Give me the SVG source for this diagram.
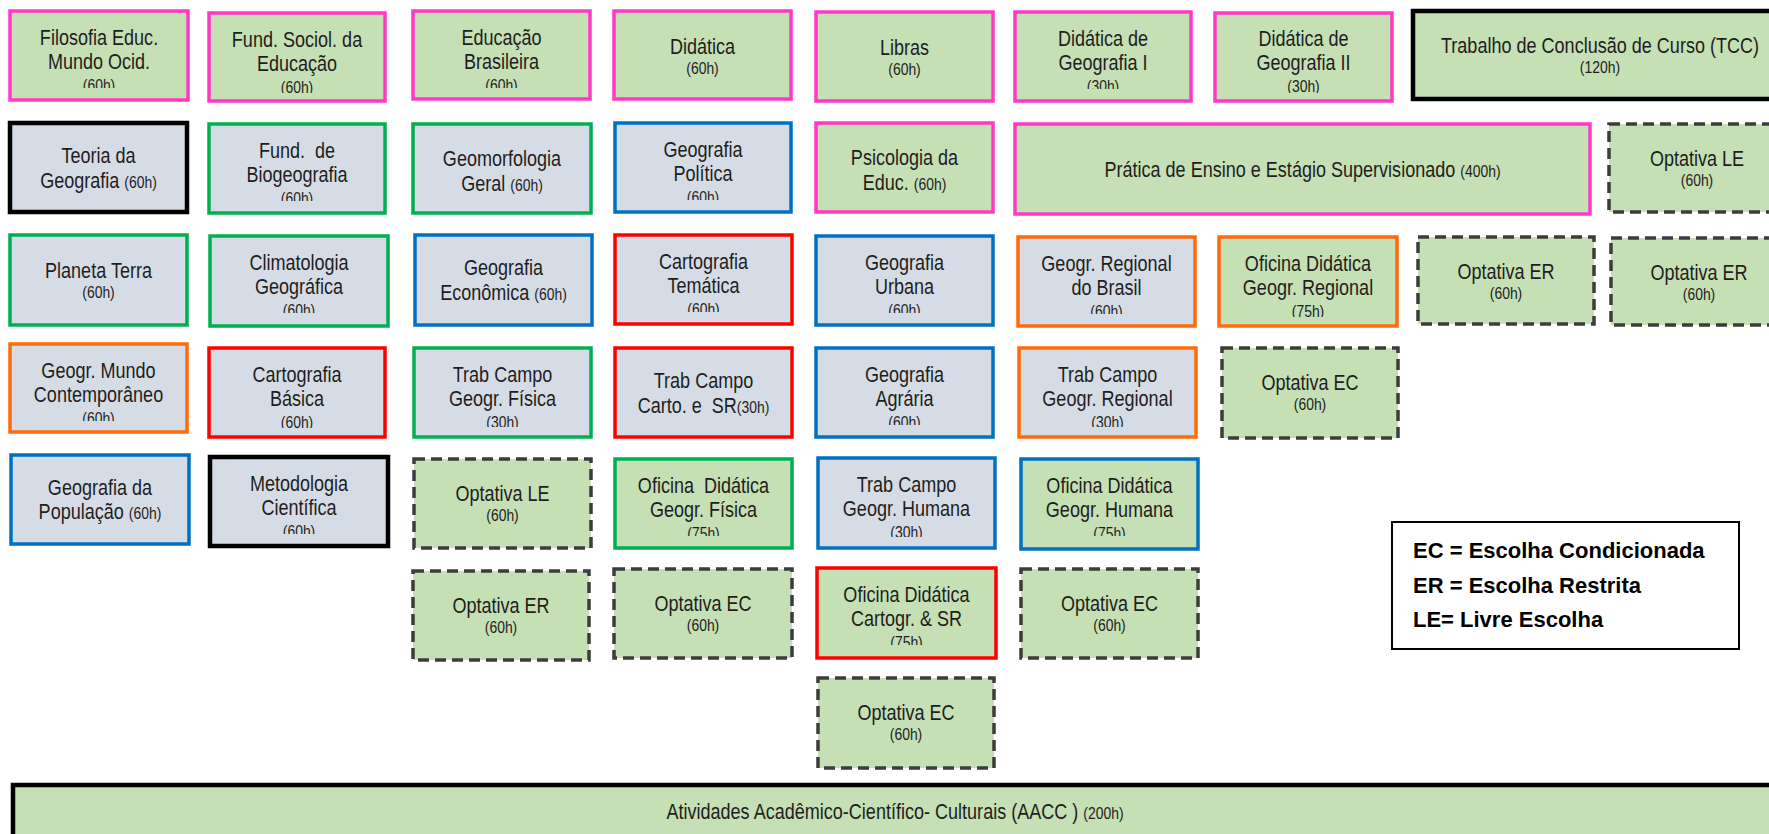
<svg xmlns="http://www.w3.org/2000/svg" width="1769" height="834" viewBox="0 0 1769 834">
<style>
rect{stroke-width:3.5}
.g{fill:#C5E0B4}
.b{fill:#D6DCE5}
.pk{stroke:#FF38C8}
.gr{stroke:#00B050}
.bl{stroke:#0070C0}
.rd{stroke:#FF0000}
.or{stroke:#FF6A0A}
.bk{stroke:#000000;stroke-width:4.5}
.ds{stroke:#3C3C3C;stroke-dasharray:11 6}
.t{font-family:"Liberation Sans",Arial,sans-serif;font-size:22px;fill:#1e1e1e;text-anchor:middle}
.h{font-size:17px}
.lg{font-family:"Liberation Sans",Arial,sans-serif;font-weight:bold;font-size:22px;fill:#000}
</style>
<defs>
<clipPath id="k1"><rect x="10" y="11" width="178" height="77"/></clipPath>
<clipPath id="k2"><rect x="209" y="13" width="176" height="80"/></clipPath>
<clipPath id="k3"><rect x="413" y="11" width="177" height="77"/></clipPath>
<clipPath id="k6"><rect x="1015" y="12" width="176" height="77"/></clipPath>
<clipPath id="k7"><rect x="1215" y="13" width="177" height="80"/></clipPath>
<clipPath id="k10"><rect x="209" y="124" width="176" height="77"/></clipPath>
<clipPath id="k12"><rect x="615" y="123" width="176" height="77"/></clipPath>
<clipPath id="k17"><rect x="210" y="236" width="178" height="77"/></clipPath>
<clipPath id="k19"><rect x="615" y="235" width="177" height="77"/></clipPath>
<clipPath id="k20"><rect x="816" y="236" width="177" height="77"/></clipPath>
<clipPath id="k21"><rect x="1018" y="237" width="177" height="77"/></clipPath>
<clipPath id="k22"><rect x="1219" y="237" width="178" height="80"/></clipPath>
<clipPath id="k25"><rect x="10" y="344" width="177" height="77"/></clipPath>
<clipPath id="k26"><rect x="209" y="348" width="176" height="80"/></clipPath>
<clipPath id="k27"><rect x="414" y="348" width="177" height="79"/></clipPath>
<clipPath id="k29"><rect x="816" y="348" width="177" height="77"/></clipPath>
<clipPath id="k30"><rect x="1019" y="348" width="177" height="79"/></clipPath>
<clipPath id="k33"><rect x="210" y="457" width="178" height="77"/></clipPath>
<clipPath id="k35"><rect x="615" y="459" width="177" height="77"/></clipPath>
<clipPath id="k36"><rect x="818" y="458" width="177" height="79"/></clipPath>
<clipPath id="k37"><rect x="1021" y="459" width="177" height="77"/></clipPath>
<clipPath id="k40"><rect x="817" y="568" width="179" height="77"/></clipPath>
</defs>
<rect x="0" y="0" width="1769" height="834" fill="#ffffff" stroke="none"/>
<g id="connectors"></g>

<!-- Row 1 -->
<g id="filosofia"><rect class="g pk" x="10" y="11" width="178" height="89"/><g clip-path="url(#k1)"><text class="t" transform="translate(99 0) scale(0.82 1)"><tspan x="0" y="45">Filosofia Educ.</tspan><tspan x="0" y="69">Mundo Ocid.</tspan><tspan class="h" x="0" y="91">(60h)</tspan></text></g></g>
<g id="fund-sociol"><rect class="g pk" x="209" y="13" width="176" height="88"/><g clip-path="url(#k2)"><text class="t" transform="translate(297 0) scale(0.82 1)"><tspan x="0" y="47">Fund. Sociol. da</tspan><tspan x="0" y="71">Educação</tspan><tspan class="h" x="0" y="93">(60h)</tspan></text></g></g>
<g id="educacao-brasileira"><rect class="g pk" x="413" y="11" width="177" height="88"/><g clip-path="url(#k3)"><text class="t" transform="translate(501.5 0) scale(0.82 1)"><tspan x="0" y="45">Educação</tspan><tspan x="0" y="69">Brasileira</tspan><tspan class="h" x="0" y="91">(60h)</tspan></text></g></g>
<g id="didatica"><rect class="g pk" x="614" y="11" width="177" height="88"/><text class="t" transform="translate(702.5 0) scale(0.82 1)"><tspan x="0" y="54">Didática</tspan><tspan class="h" x="0" y="74">(60h)</tspan></text></g>
<g id="libras"><rect class="g pk" x="816" y="12" width="177" height="89"/><text class="t" transform="translate(904.5 0) scale(0.82 1)"><tspan x="0" y="55">Libras</tspan><tspan class="h" x="0" y="75">(60h)</tspan></text></g>
<g id="didatica-geo-1"><rect class="g pk" x="1015" y="12" width="176" height="89"/><g clip-path="url(#k6)"><text class="t" transform="translate(1103 0) scale(0.82 1)"><tspan x="0" y="46">Didática de</tspan><tspan x="0" y="70">Geografia I</tspan><tspan class="h" x="0" y="92">(30h)</tspan></text></g></g>
<g id="didatica-geo-2"><rect class="g pk" x="1215" y="13" width="177" height="88"/><g clip-path="url(#k7)"><text class="t" transform="translate(1303.5 0) scale(0.82 1)"><tspan x="0" y="46">Didática de</tspan><tspan x="0" y="70">Geografia II</tspan><tspan class="h" x="0" y="92">(30h)</tspan></text></g></g>
<g id="tcc"><rect class="g bk" x="1413" y="11" width="374" height="88"/><text class="t" transform="translate(1600 0) scale(0.82 1)"><tspan x="0" y="53">Trabalho de Conclusão de Curso (TCC)</tspan><tspan class="h" x="0" y="73">(120h)</tspan></text></g>

<!-- Row 2 -->
<g id="teoria"><rect class="b bk" x="10" y="123" width="177" height="89"/><text class="t" transform="translate(98.5 0) scale(0.82 1)"><tspan x="0" y="163">Teoria da</tspan><tspan x="0" y="188">Geografia <tspan class="h">(60h)</tspan></tspan></text></g>
<g id="biogeografia"><rect class="b gr" x="209" y="124" width="176" height="89"/><g clip-path="url(#k10)"><text class="t" transform="translate(297 0) scale(0.82 1)"><tspan x="0" y="158">Fund.&#160; de</tspan><tspan x="0" y="182">Biogeografia</tspan><tspan class="h" x="0" y="204">(60h)</tspan></text></g></g>
<g id="geomorfologia"><rect class="b gr" x="413" y="124" width="178" height="89"/><text class="t" transform="translate(502 0) scale(0.82 1)"><tspan x="0" y="166">Geomorfologia</tspan><tspan x="0" y="191">Geral <tspan class="h">(60h)</tspan></tspan></text></g>
<g id="geo-politica"><rect class="b bl" x="615" y="123" width="176" height="89"/><g clip-path="url(#k12)"><text class="t" transform="translate(703 0) scale(0.82 1)"><tspan x="0" y="157">Geografia</tspan><tspan x="0" y="181">Política</tspan><tspan class="h" x="0" y="203">(60h)</tspan></text></g></g>
<g id="psicologia"><rect class="g pk" x="816" y="123" width="177" height="89"/><text class="t" transform="translate(904.5 0) scale(0.82 1)"><tspan x="0" y="165">Psicologia da</tspan><tspan x="0" y="190">Educ. <tspan class="h">(60h)</tspan></tspan></text></g>
<g id="pratica"><rect class="g pk" x="1015" y="124" width="575" height="90"/><text class="t" transform="translate(1302.5 0) scale(0.82 1)" x="0" y="177">Prática de Ensino e Estágio Supervisionado <tspan class="h">(400h)</tspan></text></g>
<g id="optativa-le-1"><rect class="g ds" x="1609" y="124" width="176" height="88"/><text class="t" transform="translate(1697 0) scale(0.82 1)"><tspan x="0" y="166">Optativa LE</tspan><tspan class="h" x="0" y="186">(60h)</tspan></text></g>

<!-- Row 3 -->
<g id="planeta-terra"><rect class="b gr" x="10" y="235" width="177" height="90"/><text class="t" transform="translate(98.5 0) scale(0.82 1)"><tspan x="0" y="278">Planeta Terra</tspan><tspan class="h" x="0" y="298">(60h)</tspan></text></g>
<g id="climatologia"><rect class="b gr" x="210" y="236" width="178" height="90"/><g clip-path="url(#k17)"><text class="t" transform="translate(299 0) scale(0.82 1)"><tspan x="0" y="270">Climatologia</tspan><tspan x="0" y="294">Geográfica</tspan><tspan class="h" x="0" y="316">(60h)</tspan></text></g></g>
<g id="geo-economica"><rect class="b bl" x="415" y="235" width="177" height="90"/><text class="t" transform="translate(503.5 0) scale(0.82 1)"><tspan x="0" y="275">Geografia</tspan><tspan x="0" y="300">Econômica <tspan class="h">(60h)</tspan></tspan></text></g>
<g id="cartografia-tematica"><rect class="b rd" x="615" y="235" width="177" height="89"/><g clip-path="url(#k19)"><text class="t" transform="translate(703.5 0) scale(0.82 1)"><tspan x="0" y="269">Cartografia</tspan><tspan x="0" y="293">Temática</tspan><tspan class="h" x="0" y="315">(60h)</tspan></text></g></g>
<g id="geo-urbana"><rect class="b bl" x="816" y="236" width="177" height="89"/><g clip-path="url(#k20)"><text class="t" transform="translate(904.5 0) scale(0.82 1)"><tspan x="0" y="270">Geografia</tspan><tspan x="0" y="294">Urbana</tspan><tspan class="h" x="0" y="316">(60h)</tspan></text></g></g>
<g id="regional-brasil"><rect class="b or" x="1018" y="237" width="177" height="89"/><g clip-path="url(#k21)"><text class="t" transform="translate(1106.5 0) scale(0.82 1)"><tspan x="0" y="271">Geogr. Regional</tspan><tspan x="0" y="295">do Brasil</tspan><tspan class="h" x="0" y="317">(60h)</tspan></text></g></g>
<g id="oficina-regional"><rect class="g or" x="1219" y="237" width="178" height="89"/><g clip-path="url(#k22)"><text class="t" transform="translate(1308 0) scale(0.82 1)"><tspan x="0" y="271">Oficina Didática</tspan><tspan x="0" y="295">Geogr. Regional</tspan><tspan class="h" x="0" y="317">(75h)</tspan></text></g></g>
<g id="optativa-er-1"><rect class="g ds" x="1418" y="237" width="176" height="87"/><text class="t" transform="translate(1506 0) scale(0.82 1)"><tspan x="0" y="279">Optativa ER</tspan><tspan class="h" x="0" y="299">(60h)</tspan></text></g>
<g id="optativa-er-2"><rect class="g ds" x="1611" y="238" width="176" height="87"/><text class="t" transform="translate(1699 0) scale(0.82 1)"><tspan x="0" y="280">Optativa ER</tspan><tspan class="h" x="0" y="300">(60h)</tspan></text></g>

<!-- Row 4 -->
<g id="geo-mundo"><rect class="b or" x="10" y="344" width="177" height="88"/><g clip-path="url(#k25)"><text class="t" transform="translate(98.5 0) scale(0.82 1)"><tspan x="0" y="378">Geogr. Mundo</tspan><tspan x="0" y="402">Contemporâneo</tspan><tspan class="h" x="0" y="424">(60h)</tspan></text></g></g>
<g id="cartografia-basica"><rect class="b rd" x="209" y="348" width="176" height="89"/><g clip-path="url(#k26)"><text class="t" transform="translate(297 0) scale(0.82 1)"><tspan x="0" y="382">Cartografia</tspan><tspan x="0" y="406">Básica</tspan><tspan class="h" x="0" y="428">(60h)</tspan></text></g></g>
<g id="trab-fisica"><rect class="b gr" x="414" y="348" width="177" height="89"/><g clip-path="url(#k27)"><text class="t" transform="translate(502.5 0) scale(0.82 1)"><tspan x="0" y="382">Trab Campo</tspan><tspan x="0" y="406">Geogr. Física</tspan><tspan class="h" x="0" y="428">(30h)</tspan></text></g></g>
<g id="trab-carto"><rect class="b rd" x="615" y="348" width="177" height="89"/><text class="t" transform="translate(703.5 0) scale(0.82 1)"><tspan x="0" y="388">Trab Campo</tspan><tspan x="0" y="413">Carto. e&#160; SR<tspan class="h">(30h)</tspan></tspan></text></g>
<g id="geo-agraria"><rect class="b bl" x="816" y="348" width="177" height="89"/><g clip-path="url(#k29)"><text class="t" transform="translate(904.5 0) scale(0.82 1)"><tspan x="0" y="382">Geografia</tspan><tspan x="0" y="406">Agrária</tspan><tspan class="h" x="0" y="428">(60h)</tspan></text></g></g>
<g id="trab-regional"><rect class="b or" x="1019" y="348" width="177" height="89"/><g clip-path="url(#k30)"><text class="t" transform="translate(1107.5 0) scale(0.82 1)"><tspan x="0" y="382">Trab Campo</tspan><tspan x="0" y="406">Geogr. Regional</tspan><tspan class="h" x="0" y="428">(30h)</tspan></text></g></g>
<g id="optativa-ec-1"><rect class="g ds" x="1222" y="348" width="176" height="90"/><text class="t" transform="translate(1310 0) scale(0.82 1)"><tspan x="0" y="390">Optativa EC</tspan><tspan class="h" x="0" y="410">(60h)</tspan></text></g>

<!-- Row 5 -->
<g id="geo-populacao"><rect class="b bl" x="11" y="455" width="178" height="89"/><text class="t" transform="translate(100 0) scale(0.82 1)"><tspan x="0" y="495">Geografia da</tspan><tspan x="0" y="519">População <tspan class="h">(60h)</tspan></tspan></text></g>
<g id="metodologia"><rect class="b bk" x="210" y="457" width="178" height="89"/><g clip-path="url(#k33)"><text class="t" transform="translate(299 0) scale(0.82 1)"><tspan x="0" y="491">Metodologia</tspan><tspan x="0" y="515">Científica</tspan><tspan class="h" x="0" y="537">(60h)</tspan></text></g></g>
<g id="optativa-le-2"><rect class="g ds" x="414" y="459" width="177" height="89"/><text class="t" transform="translate(502.5 0) scale(0.82 1)"><tspan x="0" y="501">Optativa LE</tspan><tspan class="h" x="0" y="521">(60h)</tspan></text></g>
<g id="oficina-fisica"><rect class="g gr" x="615" y="459" width="177" height="89"/><g clip-path="url(#k35)"><text class="t" transform="translate(703.5 0) scale(0.82 1)"><tspan x="0" y="493">Oficina&#160; Didática</tspan><tspan x="0" y="517">Geogr. Física</tspan><tspan class="h" x="0" y="539">(75h)</tspan></text></g></g>
<g id="trab-humana"><rect class="b bl" x="818" y="458" width="177" height="90"/><g clip-path="url(#k36)"><text class="t" transform="translate(906.5 0) scale(0.82 1)"><tspan x="0" y="492">Trab Campo</tspan><tspan x="0" y="516">Geogr. Humana</tspan><tspan class="h" x="0" y="538">(30h)</tspan></text></g></g>
<g id="oficina-humana"><rect class="g bl" x="1021" y="459" width="177" height="90"/><g clip-path="url(#k37)"><text class="t" transform="translate(1109.5 0) scale(0.82 1)"><tspan x="0" y="493">Oficina Didática</tspan><tspan x="0" y="517">Geogr. Humana</tspan><tspan class="h" x="0" y="539">(75h)</tspan></text></g></g>

<!-- Row 6 -->
<g id="optativa-er-3"><rect class="g ds" x="413" y="571" width="176" height="89"/><text class="t" transform="translate(501 0) scale(0.82 1)"><tspan x="0" y="613">Optativa ER</tspan><tspan class="h" x="0" y="633">(60h)</tspan></text></g>
<g id="optativa-ec-2"><rect class="g ds" x="614" y="569" width="178" height="89"/><text class="t" transform="translate(703 0) scale(0.82 1)"><tspan x="0" y="611">Optativa EC</tspan><tspan class="h" x="0" y="631">(60h)</tspan></text></g>
<g id="oficina-cartogr"><rect class="g rd" x="817" y="568" width="179" height="90"/><g clip-path="url(#k40)"><text class="t" transform="translate(906.5 0) scale(0.82 1)"><tspan x="0" y="602">Oficina Didática</tspan><tspan x="0" y="626">Cartogr. &amp; SR</tspan><tspan class="h" x="0" y="648">(75h)</tspan></text></g></g>
<g id="optativa-ec-3"><rect class="g ds" x="1021" y="569" width="177" height="89"/><text class="t" transform="translate(1109.5 0) scale(0.82 1)"><tspan x="0" y="611">Optativa EC</tspan><tspan class="h" x="0" y="631">(60h)</tspan></text></g>

<!-- Row 7 -->
<g id="optativa-ec-4"><rect class="g ds" x="818" y="678" width="176" height="90"/><text class="t" transform="translate(906 0) scale(0.82 1)"><tspan x="0" y="720">Optativa EC</tspan><tspan class="h" x="0" y="740">(60h)</tspan></text></g>

<!-- AACC -->
<g id="aacc"><rect class="g bk" x="13" y="785" width="1764" height="80"/><text class="t" transform="translate(895 0) scale(0.82 1)" x="0" y="819">Atividades Acadêmico-Científico- Culturais (AACC ) <tspan class="h">(200h)</tspan></text></g>

<!-- Legend -->
<g id="legend"><rect x="1392" y="522" width="347" height="127" fill="#ffffff" stroke="#000000" style="stroke-width:2"/><text class="lg"><tspan x="1413" y="558">EC = Escolha Condicionada</tspan><tspan x="1413" y="593">ER = Escolha Restrita</tspan><tspan x="1413" y="627">LE= Livre Escolha</tspan></text></g>
</svg>
